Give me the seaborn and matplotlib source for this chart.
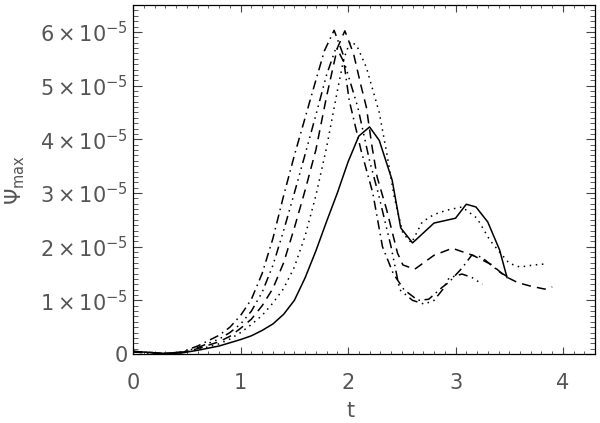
import numpy as np
import pandas as pd
import matplotlib
matplotlib.use("Agg")
import matplotlib.pyplot as plt
import seaborn as sns
from matplotlib.ticker import MultipleLocator, FuncFormatter

# ── Data (psi values in units of 1e-5) ────────────────────────────────────────
t_solid = [0.0, 0.15, 0.3, 0.45, 0.6, 0.8, 1.0, 1.1, 1.2, 1.3, 1.4, 1.5, 1.6, 1.7, 1.8,
           1.9, 2.0, 2.1, 2.2, 2.29, 2.41, 2.49, 2.6, 2.8, 3.0, 3.1, 3.19, 3.3, 3.41, 3.48]
psi_solid = [0.05, 0.03, 0.01, 0.02, 0.07, 0.15, 0.27, 0.34, 0.44, 0.56, 0.74, 1.0, 1.42,
             1.92, 2.47, 3.0, 3.58, 4.06, 4.23, 3.98, 3.24, 2.35, 2.07, 2.44, 2.53, 2.79,
             2.74, 2.46, 1.94, 1.42]

t_dotted = [0.0, 0.15, 0.3, 0.45, 0.6, 0.8, 0.9, 1.0, 1.1, 1.2, 1.3, 1.4, 1.5, 1.6, 1.7,
            1.8, 1.9, 1.96, 2.02, 2.08, 2.17, 2.29, 2.36, 2.43, 2.51, 2.59, 2.69, 2.8,
            2.92, 3.06, 3.2, 3.32, 3.41, 3.5, 3.6, 3.73, 3.85]
psi_dotted = [0.05, 0.03, 0.01, 0.03, 0.08, 0.19, 0.28, 0.40, 0.55, 0.72, 0.95, 1.22, 1.62,
              2.2, 2.95, 3.85, 4.9, 5.5, 5.82, 5.75, 5.34, 4.5, 3.74, 2.92, 2.25, 2.07,
              2.46, 2.6, 2.68, 2.74, 2.53, 2.12, 1.90, 1.69, 1.62, 1.66, 1.68]

t_dashed = [0.0, 0.15, 0.3, 0.45, 0.6, 0.8, 0.9, 1.0, 1.1, 1.2, 1.3, 1.4, 1.5, 1.6, 1.7,
            1.8, 1.9, 1.97, 2.05, 2.12, 2.17, 2.22, 2.27, 2.36, 2.46, 2.51, 2.62, 2.8,
            2.97, 3.16, 3.34, 3.46, 3.58, 3.69, 3.83, 3.9]
psi_dashed = [0.05, 0.03, 0.01, 0.03, 0.10, 0.23, 0.33, 0.48, 0.65, 0.9, 1.22, 1.7, 2.35,
              3.05, 3.8, 4.8, 5.7, 6.02, 5.6, 5.0, 4.6, 3.9, 3.3, 2.68, 1.88, 1.66, 1.58,
              1.84, 1.97, 1.84, 1.66, 1.45, 1.33, 1.27, 1.21, 1.25]

t_dashdot = [0.0, 0.15, 0.3, 0.45, 0.6, 0.8, 0.9, 1.0, 1.1, 1.2, 1.3, 1.4, 1.5, 1.6, 1.7,
             1.78, 1.87, 1.95, 2.01, 2.12, 2.23, 2.32, 2.42, 2.52, 2.65, 2.75, 2.88, 2.94,
             3.06, 3.15, 3.24, 3.30, 3.41, 3.5]
psi_dashdot = [0.04, 0.02, 0.01, 0.04, 0.15, 0.35, 0.5, 0.72, 1.02, 1.5, 2.15, 2.95, 3.7,
               4.4, 5.1, 5.65, 6.03, 5.6, 4.73, 3.8, 3.0, 2.0, 1.5, 1.2, 1.0, 1.02, 1.25,
               1.34, 1.60, 1.84, 1.81, 1.71, 1.53, 1.42]

t_dash3dot = [0.0, 0.15, 0.3, 0.45, 0.6, 0.8, 0.9, 1.0, 1.1, 1.2, 1.3, 1.4, 1.5, 1.6, 1.7,
              1.8, 1.89, 1.97, 2.09, 2.2, 2.28, 2.40, 2.48, 2.60, 2.71, 2.80, 2.88, 2.94,
              3.06, 3.15, 3.25]
psi_dash3dot = [0.04, 0.02, 0.01, 0.03, 0.12, 0.28, 0.4, 0.56, 0.8, 1.15, 1.65, 2.3, 3.0,
                3.72, 4.45, 5.2, 5.72, 5.4, 4.6, 3.6, 3.0, 2.0, 1.2, 1.0, 0.93, 1.0, 1.2,
                1.42, 1.49, 1.43, 1.30]

runs = {
    "solid": (t_solid, psi_solid),
    "dotted": (t_dotted, psi_dotted),
    "dashed": (t_dashed, psi_dashed),
    "dashdot": (t_dashdot, psi_dashdot),
    "dash3dot": (t_dash3dot, psi_dash3dot),
}

frames = []
for name, (tt, pp) in runs.items():
    frames.append(pd.DataFrame({"t": tt, "psi": np.array(pp) * 1e-5, "run": name}))
df = pd.concat(frames, ignore_index=True)

dash_map = {
    "solid": "",
    "dotted": (1, 3),
    "dashed": (6, 4),
    "dashdot": (6, 3, 1, 3),
    "dash3dot": (6, 3, 1, 3, 1, 3, 1, 3),
}

# ── Plot ──────────────────────────────────────────────────────────────────────
sns.set_style("ticks")
plt.rcParams["font.family"] = ["DejaVu Sans"]

txt_col = "#555555"

fig = plt.figure(figsize=(6.0, 4.23), dpi=100)
ax = fig.add_axes([0.222, 0.163, 0.770, 0.825])

sns.lineplot(data=df, x="t", y="psi", style="run", dashes=dash_map, color="black",
             linewidth=1.1, estimator=None, sort=False, legend=False, ax=ax)

ax.set_xlim(0, 4.3)
ax.set_ylim(0, 6.5e-5)

ax.xaxis.set_major_locator(MultipleLocator(1))
ax.xaxis.set_minor_locator(MultipleLocator(0.1))
ax.yaxis.set_major_locator(MultipleLocator(1e-5))
ax.yaxis.set_minor_locator(MultipleLocator(1e-6))


def yfmt(v, pos):
    n = int(round(v * 1e5))
    if n == 0:
        return "0"
    return r"$%d\times10^{-5}$" % n


ax.yaxis.set_major_formatter(FuncFormatter(yfmt))

ax.tick_params(which="both", direction="in", top=True, right=True, colors="#444444")
ax.tick_params(axis="x", which="major", length=5, width=0.8, pad=14, labelsize=15)
ax.tick_params(axis="x", which="minor", length=2.5, width=0.6)
ax.tick_params(axis="y", which="major", length=6.5, width=0.8, pad=4, labelsize=15)
ax.tick_params(axis="y", which="minor", length=3.5, width=0.6)
for lab in ax.get_xticklabels() + ax.get_yticklabels():
    lab.set_color(txt_col)

for sp in ax.spines.values():
    sp.set_color("black")
    sp.set_linewidth(0.9)

ax.set_xlabel("t", fontsize=15, color=txt_col)
ax.xaxis.set_label_coords(0.47, -0.135)
ax.set_ylabel(r"$\Psi_{\mathrm{max}}$", fontsize=15, color=txt_col, labelpad=9)

fig.savefig("out.png", dpi=100)
plt.close(fig)
